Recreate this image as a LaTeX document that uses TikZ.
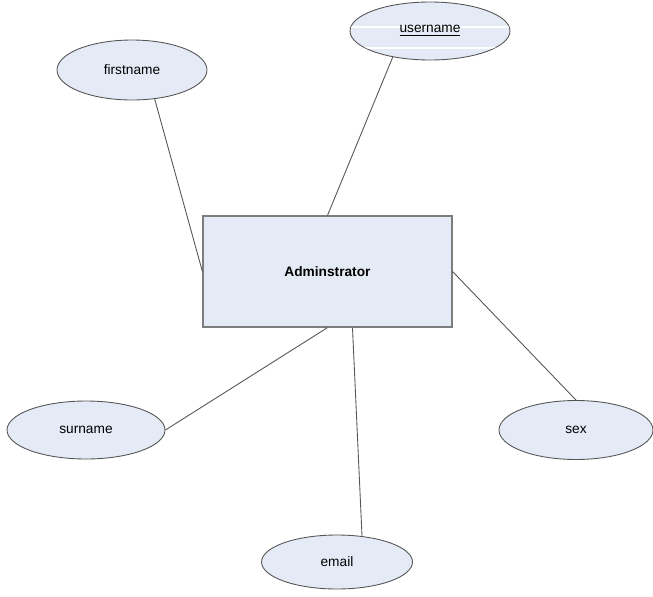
\documentclass[tikz,border=0pt]{standalone}
\usepackage{fontspec}
\setmainfont{Liberation Sans}
\usetikzlibrary{shapes.geometric}

\definecolor{attrfill}{RGB}{228,234,246}
\definecolor{edgegray}{RGB}{85,85,85}
\definecolor{boxgray}{RGB}{125,125,125}

\begin{document}
\begin{tikzpicture}[x=0.02cm, y=-0.02cm,
    every node/.style={font=\fontsize{7.8}{9}\selectfont, inner sep=0pt},
    attr/.style={ellipse, draw=edgegray, fill=attrfill, line width=0.5pt},
    entity/.style={rectangle, draw=boxgray, fill=attrfill, line width=0.7pt},
    link/.style={draw=edgegray, line width=0.5pt}]

    \useasboundingbox (0,0) rectangle (653,596);

    % Entity
    \node[entity, minimum width=4.98cm, minimum height=2.22cm] (admin) at (327.5,271.5) {\textbf{Adminstrator}};

    % Attributes
    \node[attr, minimum width=3.0cm, minimum height=1.2cm] (first) at (132,70) {firstname};
    \node[attr, minimum width=3.2cm, minimum height=1.16cm] (user) at (430,31) {};
    \begin{scope}
        \clip (430,31) ellipse [x radius=79.5, y radius=28.5];
        \draw[white, line width=1.2pt] (350,27) -- (515,27);
        \draw[white, line width=1.2pt] (350,48) -- (515,48);
    \end{scope}
    \node at (user) {\underline{username}};
    \node[attr, minimum width=3.16cm, minimum height=1.16cm] (sur) at (86,430) {surname};
    \node[attr, minimum width=3.02cm, minimum height=1.08cm] (email) at (337,562) {email};
    \node[attr, minimum width=3.08cm, minimum height=1.18cm] (sex) at (576,430) {sex};

    % Links
    \draw[link] (first.-52) -- (admin.west);
    \draw[link] (user.-145) -- (admin.north);
    \draw[link] (sur.east) -- (admin.south);
    \draw[link] (admin.-66) -- (email.46);
    \draw[link] (admin.east) -- (sex.north);

\end{tikzpicture}
\end{document}
